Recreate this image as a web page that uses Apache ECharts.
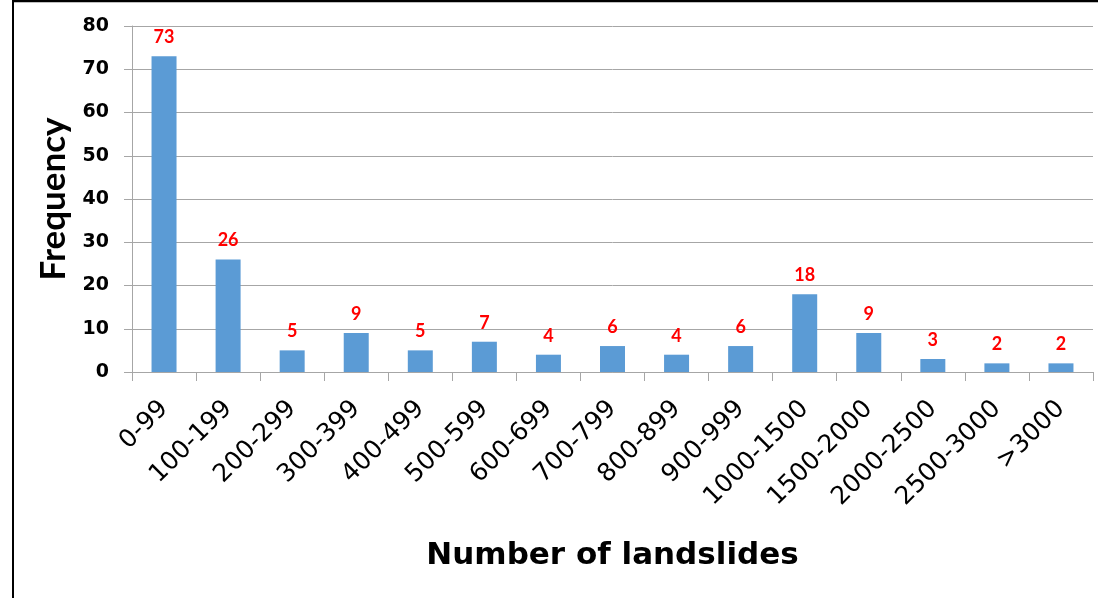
<!DOCTYPE html>
<html>
<head>
<meta charset="utf-8">
<script src="https://cdn.jsdelivr.net/npm/echarts@6/dist/echarts.min.js"></script>
<style>
  html, body { margin: 0; padding: 0; background: #fff; }
  #chart { width: 1098px; height: 598px; }
</style>
</head>
<body>
<div id="chart"></div>
<script>
// Landslide count classes and how often each occurs
const categories = ['0-99', '100-199', '200-299', '300-399', '400-499', '500-599', '600-699',
  '700-799', '800-899', '900-999', '1000-1500', '1500-2000', '2000-2500', '2500-3000', '>3000'];
const frequency = [73, 26, 5, 9, 5, 7, 4, 6, 4, 6, 18, 9, 3, 2, 2];
const yTicks = [0, 10, 20, 30, 40, 50, 60, 70, 80];

const WIDE = '"DejaVu Sans", sans-serif';
const HUMAN = 'Lato, "Open Sans", sans-serif';
const GRID_GREY = '#a6a6a6';

const chart = echarts.init(document.getElementById('chart'), null, { renderer: 'canvas' });
chart.setOption({
  animation: false,
  backgroundColor: '#fff',
  grid: { left: 132, right: 5, top: 26, bottom: 226, containLabel: false },
  graphic: [
    // frame round the figure (left and top edges)
    { type: 'line', shape: { x1: 13, y1: 0, x2: 13, y2: 598 }, style: { stroke: '#000', lineWidth: 2 } },
    { type: 'line', shape: { x1: 12, y1: 1, x2: 1098, y2: 1 }, style: { stroke: '#000', lineWidth: 2.5 } }
  ],
  xAxis: {
    type: 'category',
    data: categories,
    name: 'Number of landslides',
    nameLocation: 'middle',
    nameGap: 168,
    nameTextStyle: { fontFamily: WIDE, fontWeight: 'bold', fontSize: 31, color: '#000' },
    axisLine: { lineStyle: { color: GRID_GREY, width: 1 } },
    axisTick: { show: true, length: 9, lineStyle: { color: GRID_GREY } },
    axisLabel: { rotate: 45, margin: 33, fontFamily: WIDE, fontSize: 25, color: '#000', interval: 0 }
  },
  yAxis: {
    type: 'value',
    min: 0,
    max: yTicks[yTicks.length - 1],
    interval: yTicks[1] - yTicks[0],
    name: 'Frequency',
    nameLocation: 'middle',
    nameGap: 52,
    nameTextStyle: { fontFamily: HUMAN, fontWeight: 'bold', fontSize: 35, color: '#000' },
    axisLine: { show: true, lineStyle: { color: GRID_GREY, width: 1 } },
    axisTick: { show: true, length: 8, lineStyle: { color: GRID_GREY } },
    splitLine: { lineStyle: { color: GRID_GREY, width: 1 } },
    axisLabel: { margin: 23, fontFamily: WIDE, fontWeight: 'bold', fontSize: 19, color: '#000' }
  },
  series: [{
    type: 'bar',
    data: frequency,
    barWidth: 25,
    itemStyle: { color: '#5b9bd5' },
    label: {
      show: true,
      position: 'top',
      distance: 10,
      fontFamily: HUMAN,
      fontWeight: 'bold',
      fontSize: 18,
      color: '#ff0000'
    }
  }]
});
</script>
</body>
</html>
